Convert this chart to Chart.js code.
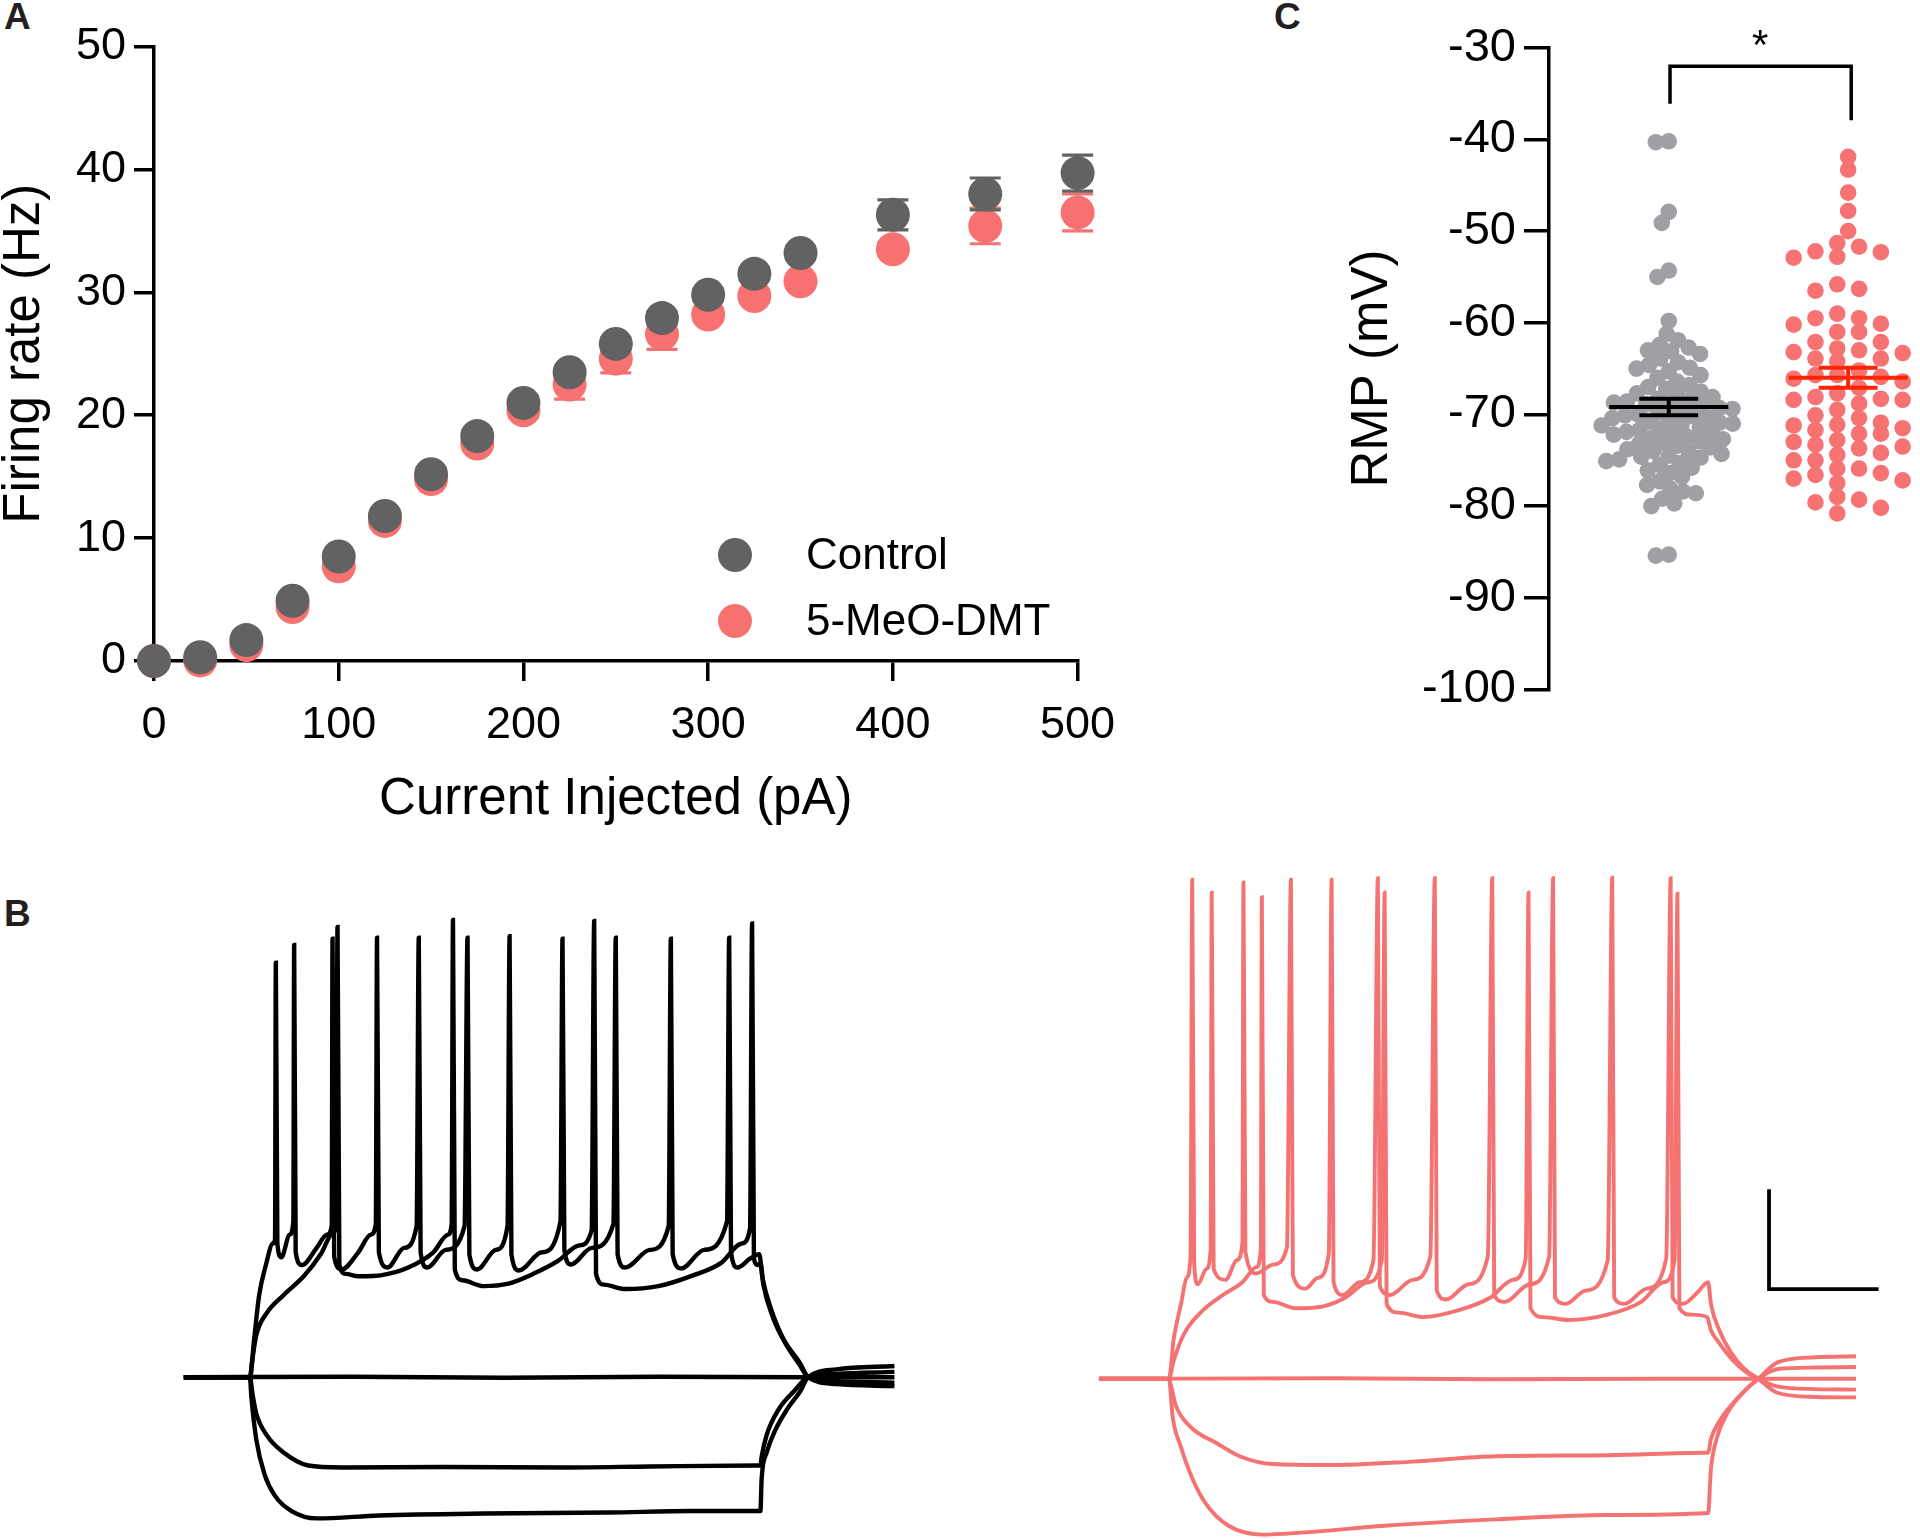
<!DOCTYPE html>
<html><head><meta charset="utf-8">
<script src="https://cdn.jsdelivr.net/npm/chart.js@4.4.1/dist/chart.umd.min.js"></script>
<style>
html,body{margin:0;padding:0;background:#fff;}
body{width:1920px;height:1539px;position:relative;overflow:hidden;font-family:'Liberation Sans',Arial,sans-serif;}
canvas{position:absolute;}
.lbl{position:absolute;font-weight:bold;font-size:37px;line-height:1;color:#231F20;}
</style></head><body>
<div class="lbl" style="left:4px;top:-2px">A</div>
<div class="lbl" style="left:4px;top:895px">B</div>
<div class="lbl" style="left:1274px;top:-2px">C</div>
<canvas id="cA" width="1150" height="830" style="left:0;top:0"></canvas>
<canvas id="cC" width="630" height="720" style="left:1290px;top:0"></canvas>
<canvas id="cB1" width="800" height="679" style="left:150px;top:860px"></canvas>
<canvas id="cB2" width="870" height="679" style="left:1050px;top:860px"></canvas>
<script>
// ---------------- DATA ----------------
// Panel A: firing rate vs injected current
const currents    = [0,25,50,75,100,125,150,175,200,225,250,275,300,325,350,400,450,500];
const controlRate = [0,0.3,1.7,4.9,8.5,11.8,15.2,18.3,21.0,23.5,25.8,27.9,29.8,31.5,33.2,36.3,38.0,39.7];
const controlSEM  = [0,0.1,0.2,0.3,0.4,0.4,0.5,0.5,0.5,0.5,0.5,0.5,0.5,0.5,0.5,1.22,1.3,1.46];
const dmtRate     = [0,0.05,1.3,4.4,7.7,11.4,14.8,17.7,20.4,22.5,24.6,26.6,28.2,29.7,30.9,33.5,35.4,36.5];
const dmtSEM      = [0,0.1,0.2,0.3,0.4,0.5,0.5,0.5,0.6,1.2,1.15,1.25,0.5,0.5,0.5,0.5,1.45,1.5];
const xTicksA = [0,100,200,300,400,500];
const yTicksA = [0,10,20,30,40,50];
const legendA = ['Control','5-MeO-DMT'];

// Panel C: resting membrane potential (mV)
const controlRMP = [-40.2,-40.3,-47.9,-49.1,-54.3,-55.0,-59.8,-85.3,-85.4,
 -61.2,-61.9,-62.4,-62.7,-63.0,-63.1,-63.4,-63.9,-64.3,-64.6,-65.0,-65.3,-65.7,-66.0,-66.4,-66.8,
 -67.0,-67.2,-67.5,-67.7,-67.9,-68.1,-68.3,-68.5,-68.7,-68.9,-69.1,-69.3,-69.4,-69.6,-69.8,-70.0,-70.1,-70.3,-70.4,-70.6,-70.8,-70.9,-71.1,-71.2,-71.4,-71.6,-71.7,-71.9,-72.1,-72.2,-72.4,-72.6,-72.7,-72.9,
 -73.1,-73.2,-73.4,-73.6,-73.8,-74.0,-74.1,-74.3,-74.5,-74.7,-74.9,-75.1,-75.3,-75.5,-75.8,-76.1,-76.4,-76.8,
 -77.3,-77.7,-78.1,-78.4,-78.6,-79.2,-79.7,-80.0,
 -69.0,-70.2,-71.0,-68.6,-72.0,-64.9,-74.6];
const dmtRMP = [-41.9,-43.3,-45.8,-47.8,-50.0,
 -51.3,-52.8,-56.3,-59.5,-61.0,-63.3,-66.1,-68.4,-70.1,-71.7,-73.3,-75.0,-76.6,-80.2,
 -51.7,-63.2,-65.2,-68.1,-70.4,-72.1,-73.5,-76.4,
 -52.2,-55.8,-59.0,-61.0,-62.8,-64.2,-65.9,-67.7,-69.5,-71.1,-72.8,-74.4,-75.9,-77.5,-79.3,-80.8,
 -52.3,-56.5,-60.2,-62.1,-63.9,-65.7,-68.3,-71.5,-73.7,-77.0,-79.0,
 -60.1,-62.1,-63.9,-66.4,-68.4,-70.9,-72.1,-75.0,-77.2,-79.6,
 -52.9,-59.5,-63.0,-65.7,-67.1,-68.8,-71.2,-73.0,-74.2,-75.9];
const controlMean = -69.2, controlRMPsem = 0.9;
const dmtMean = -66.0, dmtRMPsem = 1.1;
const yTicksC = [-30,-40,-50,-60,-70,-80,-90,-100];
const bracketTop = -32.0, bracketLeftEnd = -36.1, bracketRightEnd = -37.9, starLevel = -29.0;

// Panel B: example voltage traces [time ms, membrane potential mV]
const ctrlHigh = [[-66,-70.6],[-1,-70.6],[3.1,-62.8],[8.0,-53.9],[14.6,-47.7],[21.5,-43.3],[23.6,-42.4],[24.4,14.0],[25.9,-43.3],[29.8,-46.1],[38.0,-41.5],[41.6,-38.8],[42.4,17.6],[43.9,-45.1],[50.1,-47.7],[64.5,-44.2],[74.7,-41.5],[79.3,-39.7],[80.1,18.9],[81.7,-46.0],[89.1,-48.6],[105.4,-45.1],[117.7,-41.5],[122.6,-39.3],[123.8,19.1],[125.6,-45.1],[134.1,-48.2],[150.4,-44.2],[162.7,-39.7],[164.8,19.1],[166.6,-45.1],[173.0,-48.2],[191.4,-44.6],[209.8,-39.7],[212.7,19.1],[214.5,-45.5],[222.1,-48.6],[240.5,-44.6],[252.0,-39.7],[254.0,19.4],[255.8,-45.5],[263.1,-48.8],[285.6,-45.1],[304.0,-38.8],[306.0,18.9],[307.8,-44.6],[314.2,-47.6],[334.7,-44.2],[356.0,-39.3],[358.3,19.1],[360.1,-45.5],[367.4,-48.2],[391.9,-44.6],[410.3,-39.7],[412.4,18.9],[414.2,-45.5],[422.6,-48.4],[445.1,-44.6],[467.6,-38.8],[469.7,19.1],[471.5,-45.1],[477.9,-48.2],[490.2,-46.4],[499.2,-45.5],[502.5,-50.4],[510.7,-56.6],[523.0,-62.8],[539.3,-67.7],[547.2,-70.6],[575,-72.0],[632,-72.4]];
const ctrlLow = [[-66,-70.6],[-1,-70.6],[1.1,-67.3],[5.2,-62.0],[15.4,-57.5],[31.7,-53.9],[52.2,-49.9],[68.5,-45.5],[80.8,-41.1],[83.7,-39.3],[85.0,21.3],[86.8,-47.7],[93.2,-49.5],[105.4,-50.0],[130.0,-49.7],[154.5,-48.2],[179.1,-45.1],[193.4,-41.5],[197.1,-39.3],[198.4,22.7],[200.2,-48.6],[207.8,-50.8],[228.2,-52.0],[252.8,-51.5],[277.3,-49.5],[301.9,-46.8],[322.3,-43.7],[334.6,-40.6],[337.1,22.5],[338.9,-49.5],[346.9,-51.7],[367.4,-52.6],[400.1,-52.0],[432.9,-49.9],[461.5,-47.3],[482.0,-43.3],[490.2,-40.2],[492.2,22.0],[494.0,-46.4],[497.5,-47.7],[500.4,-47.3],[503.3,-51.7],[512.7,-58.4],[525.0,-63.7],[539.3,-68.2],[547.2,-70.6],[575,-71.4],[632,-71.7]];
const ctrlZero = [[-66,-70.6],[100,-70.5],[250,-70.7],[400,-70.5],[547.2,-70.6],[632,-70.6]];
const ctrlHyp1 = [[-66,-70.6],[-1,-70.6],[1.5,-74.0],[5.2,-78.0],[15.4,-82.4],[31.7,-85.9],[56.2,-88.6],[89.1,-89.0],[187.3,-88.9],[310.1,-89.0],[392.0,-88.8],[498.4,-88.6],[500.4,-88.6],[501.6,-86.8],[506.5,-82.4],[518.8,-77.0],[533.1,-73.5],[547.2,-70.6],[575,-69.9],[632,-69.5]];
const ctrlHyp2 = [[-66,-70.6],[-1,-70.6],[0.3,-74.4],[5.2,-83.3],[13.3,-90.4],[23.6,-94.8],[39.9,-97.9],[64.5,-99.4],[125.9,-98.8],[228.2,-98.4],[350.9,-98.2],[432.9,-97.9],[500.4,-97.9],[501.6,-91.3],[506.5,-86.0],[514.7,-81.5],[527.0,-77.0],[539.3,-73.5],[547.2,-70.6],[575,-69.0],[632,-68.3]];

const dmtHigh = [[-66,-70.6],[-1,-70.6],[3.5,-62.4],[10.3,-55.3],[15.5,-50.0],[19.1,-45.6],[20.7,31.3],[22.5,-47.3],[25.9,-51.3],[33.7,-48.2],[37.8,-44.2],[38.8,28.6],[40.6,-48.2],[51.7,-50.4],[62.1,-46.4],[67.3,-42.9],[68.3,30.7],[70.1,-44.7],[80.3,-49.1],[95.8,-47.3],[108.7,-43.8],[112.4,31.3],[114.2,-49.5],[125.9,-52.2],[137.3,-50.0],[147.6,-45.1],[150.2,31.3],[152.0,-50.9],[160.6,-53.5],[176.2,-50.9],[189.1,-46.4],[193.2,31.6],[195.0,-51.7],[204.6,-53.5],[225.4,-50.4],[242.0,-45.6],[246.1,31.6],[247.9,-52.6],[256.6,-54.4],[277.3,-51.3],[295.4,-45.6],[299.5,31.6],[301.3,-53.5],[310.9,-54.9],[334.2,-51.3],[352.4,-45.6],[356.0,31.6],[357.8,-54.0],[367.9,-55.3],[386.1,-52.6],[406.8,-46.4],[411.0,31.7],[412.8,-54.0],[422.4,-55.3],[443.1,-52.2],[461.2,-46.0],[465.3,31.6],[467.1,-54.0],[476.8,-55.3],[489.7,-53.1],[500.1,-50.9],[502.7,-55.3],[510.5,-60.7],[520.9,-65.1],[533.9,-68.6],[546.7,-70.6],[565,-73.5],[600,-74.3],[637.5,-74.4]];
const dmtLow = [[-66,-70.6],[-1,-70.6],[3.5,-66.9],[12.9,-61.5],[28.4,-57.1],[49.1,-53.5],[67.3,-50.9],[80.3,-47.8],[84.4,-44.2],[85.4,27.7],[87.2,-53.5],[95.8,-54.9],[116.5,-56.2],[142.4,-55.8],[163.2,-54.0],[183.9,-50.9],[196.9,-46.4],[199.5,28.6],[201.3,-55.3],[212.4,-57.1],[235.8,-58.0],[266.8,-56.7],[297.9,-54.0],[318.6,-50.4],[330.6,-46.0],[333.2,28.6],[335.0,-56.2],[347.2,-58.0],[370.5,-58.6],[406.8,-57.5],[437.9,-54.9],[458.6,-50.9],[469.0,-46.4],[471.6,28.4],[473.4,-56.2],[484.6,-57.5],[499.1,-58.0],[502.7,-60.7],[510.5,-63.3],[523.4,-66.9],[536.4,-69.4],[546.7,-70.6],[565,-72.2],[600,-72.7],[637.5,-72.8]];
const dmtZero = [[-66,-70.6],[150,-70.5],[300,-70.7],[450,-70.6],[546.7,-70.6],[637.5,-70.6]];
const dmtHyp1 = [[-66,-70.6],[-1,-70.6],[1.5,-72.5],[5.1,-75.8],[18.1,-80.2],[43.9,-83.8],[64.7,-86.4],[95.8,-88.0],[147.6,-88.2],[225.4,-87.5],[303.1,-86.4],[406.8,-86.2],[497.5,-85.7],[500.1,-85.7],[502.7,-82.9],[510.5,-79.3],[526.0,-74.9],[546.7,-70.6],[565,-68.6],[600,-68.3],[637.5,-68.2]];
const dmtHyp2 = [[-66,-70.6],[-1,-70.6],[2.5,-78.4],[10.3,-84.6],[20.7,-90.9],[33.6,-96.2],[54.4,-100.6],[85.4,-102.4],[121.7,-102.0],[199.5,-100.6],[303.1,-99.3],[406.8,-98.4],[500.1,-98.0],[502.7,-89.1],[507.9,-82.9],[518.2,-77.5],[533.9,-73.1],[546.7,-70.6],[565,-67.2],[600,-66.2],[637.5,-66.0]];
const scaleBarOrigin = [556.7, -52.3]; // ms, mV
const scaleBarMs = 100, scaleBarMv = 20;

// ---------------- STYLE ----------------
const FONT = "'Liberation Sans', Arial, Helvetica, sans-serif";
Chart.defaults.font.family = FONT;
Chart.defaults.color = '#000';
Chart.defaults.animation = false;
Chart.defaults.events = [];
Chart.defaults.plugins.legend.display = false;
Chart.defaults.plugins.tooltip.enabled = false;

const GRAY_A = '#626262', RED_A = '#F77171';
const GRAY_C = '#9F9FA4', RED_C = '#F77272', RED_MEAN = '#FF2400';
const TRACE_RED = '#F47372';

function axisStyle(size, tickLen) {
  return {
    ticks: { font: { size }, color: '#000' },
    grid: { drawOnChartArea: false, drawTicks: true, tickLength: tickLen, color: '#000', lineWidth: 3.5 },
    border: { display: true, color: '#000', width: 3.5 }
  };
}

// ---------------- PANEL A ----------------
const errorBars = {
  id: 'errorBars',
  beforeDatasetDraw(chart, args) {
    const ds = chart.data.datasets[args.index];
    if (!ds.errors) return;
    const { ctx, scales: { x, y } } = chart;
    ctx.save();
    ctx.strokeStyle = ds.pointBackgroundColor;
    ctx.lineWidth = 3.2;
    ds.data.forEach((p, i) => {
      const e = ds.errors[i];
      if (!e) return;
      const px = x.getPixelForValue(p.x);
      const t = y.getPixelForValue(p.y + e), b = y.getPixelForValue(p.y - e);
      ctx.beginPath();
      ctx.moveTo(px, t); ctx.lineTo(px, b);
      ctx.moveTo(px - 15.5, t); ctx.lineTo(px + 15.5, t);
      ctx.moveTo(px - 15.5, b); ctx.lineTo(px + 15.5, b);
      ctx.stroke();
    });
    ctx.restore();
  }
};
const legendPluginA = {
  id: 'legendA',
  afterDraw(chart) {
    const ctx = chart.ctx;
    const items = [[GRAY_A, 555], [RED_A, 621]];
    ctx.save();
    items.forEach(([c, yy], i) => {
      ctx.fillStyle = c;
      ctx.beginPath(); ctx.arc(735, yy, 17, 0, Math.PI * 2); ctx.fill();
      ctx.fillStyle = '#000';
      ctx.font = `44px ${FONT}`;
      ctx.textBaseline = 'middle';
      ctx.textAlign = 'left';
      ctx.fillText(legendA[i], 806, yy + 2);
    });
    ctx.restore();
  }
};
const axA = axisStyle(45, 20);
new Chart(document.getElementById('cA'), {
  type: 'scatter',
  data: {
    datasets: [
      { label: legendA[0], data: currents.map((c, i) => ({ x: c, y: controlRate[i] })), errors: controlSEM,
        pointRadius: 17, pointBackgroundColor: GRAY_A, pointBorderWidth: 0, clip: false },
      { label: legendA[1], data: currents.map((c, i) => ({ x: c, y: dmtRate[i] })), errors: dmtSEM,
        pointRadius: 17, pointBackgroundColor: RED_A, pointBorderWidth: 0, clip: false }
    ]
  },
  options: {
    responsive: false, devicePixelRatio: 1,
    layout: { padding: { left: 0, top: 46.5, right: 72.4, bottom: 0 } },
    scales: {
      x: { type: 'linear', min: 0, max: 500,
        afterBuildTicks: s => { s.ticks = xTicksA.map(v => ({ value: v })); },
        ticks: { ...axA.ticks, padding: 18 }, grid: axA.grid, border: axA.border,
        title: { display: true, text: 'Current Injected (pA)', font: { size: 51, lineHeight: 1 }, padding: { top: 0, bottom: 4.5 }, color: '#000' },
        afterFit: s => { s.height = 169; s.paddingLeft = 0; s.paddingRight = 0; } },
      y: { type: 'linear', min: 0, max: 50,
        afterBuildTicks: s => { s.ticks = yTicksA.map(v => ({ value: v })); },
        ticks: { ...axA.ticks, padding: 8 }, grid: axA.grid, border: axA.border,
        title: { display: true, text: 'Firing rate (Hz)', font: { size: 51, lineHeight: 0.94 }, padding: { top: 1, bottom: 0 }, color: '#000' },
        afterFit: s => { s.width = 154; s.paddingTop = 0; s.paddingBottom = 0; } }
    }
  },
  plugins: [errorBars, legendPluginA]
});

// ---------------- PANEL C ----------------
const MEAN_HALF = 0.332, CAP_HALF = 0.164;
const overlayC = {
  id: 'overlayC',
  afterDatasetsDraw(chart) {
    const { ctx, scales: { x, y } } = chart;
    ctx.save();
    ctx.lineWidth = 4;
    [[1, controlMean, controlRMPsem, '#000'], [2, dmtMean, dmtRMPsem, RED_MEAN]].forEach(([g, m, s, col]) => {
      ctx.strokeStyle = col;
      const yM = y.getPixelForValue(m), yT = y.getPixelForValue(m + s), yB = y.getPixelForValue(m - s);
      ctx.beginPath();
      ctx.moveTo(x.getPixelForValue(g - MEAN_HALF), yM); ctx.lineTo(x.getPixelForValue(g + MEAN_HALF), yM);
      ctx.moveTo(x.getPixelForValue(g - CAP_HALF), yT); ctx.lineTo(x.getPixelForValue(g + CAP_HALF), yT);
      ctx.moveTo(x.getPixelForValue(g - CAP_HALF), yB); ctx.lineTo(x.getPixelForValue(g + CAP_HALF), yB);
      ctx.moveTo(x.getPixelForValue(g), yT); ctx.lineTo(x.getPixelForValue(g), yB);
      ctx.stroke();
    });
    // significance bracket
    ctx.strokeStyle = '#000'; ctx.lineWidth = 3.5; ctx.lineJoin = 'miter';
    ctx.beginPath();
    ctx.moveTo(x.getPixelForValue(1.007), y.getPixelForValue(bracketLeftEnd));
    ctx.lineTo(x.getPixelForValue(1.007), y.getPixelForValue(bracketTop));
    ctx.lineTo(x.getPixelForValue(2.017), y.getPixelForValue(bracketTop));
    ctx.lineTo(x.getPixelForValue(2.017), y.getPixelForValue(bracketRightEnd));
    ctx.stroke();
    ctx.fillStyle = '#000';
    ctx.font = `42px ${FONT}`;
    ctx.textAlign = 'center'; ctx.textBaseline = 'middle';
    ctx.fillText('*', x.getPixelForValue(1.51), y.getPixelForValue(starLevel) + 8.4);
    ctx.restore();
  }
};
const axC = axisStyle(47, 25);
const chC = new Chart(document.getElementById('cC'), {
  type: 'scatter',
  data: {
    datasets: [
      { data: controlRMP.map(v => ({ x: 1, y: v })), pointRadius: 8.3, pointBackgroundColor: GRAY_C, pointBorderWidth: 0, clip: false },
      { data: dmtRMP.map(v => ({ x: 2, y: v })), pointRadius: 8.3, pointBackgroundColor: RED_C, pointBorderWidth: 0, clip: false }
    ]
  },
  options: {
    responsive: false, devicePixelRatio: 1,
    layout: { padding: { left: 0, top: 47.8, right: 0, bottom: 30.6 } },
    scales: {
      x: { type: 'linear', display: false, min: 0.3324, max: 2.3542 },
      y: { type: 'linear', min: -100, max: -30,
        afterBuildTicks: s => { s.ticks = yTicksC.map(v => ({ value: v })); },
        ticks: { ...axC.ticks, padding: 8 }, grid: axC.grid, border: axC.border,
        title: { display: true, text: 'RMP (mV)', font: { size: 51, lineHeight: 1.2 }, padding: { top: 52.4, bottom: 0 }, color: '#000' },
        afterFit: s => { s.width = 259; s.paddingTop = 0; s.paddingBottom = 0; } }
    }
  },
  plugins: [overlayC]
});

// beeswarm layout (pixel space, from the chart's own scales)
function swarmOffsets(values, ys, minDist) {
  const order = values.map((v, i) => i).sort((a, b) => values[b] - values[a]);
  const placed = [], off = new Array(values.length);
  for (const i of order) {
    const py = ys.getPixelForValue(values[i]);
    const iv = [];
    for (const p of placed) {
      const dy = Math.abs(p.y - py);
      if (dy < minDist) { const w = Math.sqrt(minDist * minDist - dy * dy); iv.push([p.x - w, p.x + w]); }
    }
    const cands = [0];
    iv.forEach(([a, b]) => cands.push(a, b));
    cands.sort((a, b) => Math.abs(a) - Math.abs(b));
    let xx = 0;
    for (const c of cands) {
      if (iv.every(([a, b]) => c <= a + 1e-6 || c >= b - 1e-6)) { xx = c; break; }
    }
    off[i] = xx; placed.push({ x: xx, y: py });
  }
  return off;
}
function columnOffsets(values, ys, step, sameCol, centerBlock, nHalf) {
  const order = values.map((v, i) => i).sort((a, b) => values[b] - values[a]);
  const cols = [0];
  for (let k = 0; k < nHalf; k++) cols.push(-(k + 0.5) * step, (k + 0.5) * step);
  const placed = [], off = new Array(values.length);
  for (const i of order) {
    const py = ys.getPixelForValue(values[i]);
    let chosen = null, bestC = null, bestGap = -1;
    for (const c of cols) {
      let ok = true, gap = Infinity;
      for (const p of placed) {
        const dy = Math.abs(p.y - py);
        if (c === 0) {
          if (p.x !== 0 && dy < 2 * sameCol) { ok = false; }
          if (p.x === 0 && dy < 12) { ok = false; gap = Math.min(gap, dy); }
        } else {
          if (p.x === 0 && dy < centerBlock) { ok = false; gap = Math.min(gap, dy); }
          if (Math.abs(p.x - c) < 1) { gap = Math.min(gap, dy); if (dy < sameCol) ok = false; }
        }
      }
      if (ok) { chosen = c; break; }
      if (c !== 0 && gap > bestGap) { bestGap = gap; bestC = c; }
    }
    if (chosen === null) chosen = bestC;
    off[i] = chosen; placed.push({ x: chosen, y: py });
  }
  return off;
}
(function layoutC() {
  const xs = chC.scales.x, ys = chC.scales.y;
  const gOff = swarmOffsets(controlRMP, ys, 13);
  const rOff = columnOffsets(dmtRMP, ys, 21.8, 13.5, 10, 3);
  const c1 = xs.getPixelForValue(1), c2 = xs.getPixelForValue(2);
  chC.data.datasets[0].data = controlRMP.map((v, i) => ({ x: xs.getValueForPixel(c1 + gOff[i]), y: v }));
  chC.data.datasets[1].data = dmtRMP.map((v, i) => ({ x: xs.getValueForPixel(c2 + rOff[i]), y: v }));
  chC.update('none');
})();

// ---------------- PANEL B ----------------
function traceSet(sweeps, color, width) {
  return sweeps.map(s => ({
    data: s.map(([t, v]) => ({ x: t, y: v })),
    borderColor: color, borderWidth: width, pointRadius: 0, fill: false,
    cubicInterpolationMode: 'monotone', clip: false
  }));
}
function traceOptions(xmin, xmax, ymin, ymax) {
  return {
    responsive: false, devicePixelRatio: 1,
    layout: { padding: 0 },
    scales: {
      x: { type: 'linear', display: false, min: xmin, max: xmax },
      y: { type: 'linear', display: false, min: ymin, max: ymax }
    }
  };
}
new Chart(document.getElementById('cB1'), {
  type: 'line',
  data: { datasets: traceSet([ctrlHyp2, ctrlHyp1, ctrlZero, ctrlLow, ctrlHigh], '#000', 4.4) },
  options: traceOptions(-99.2, 686.6, -103.6, 34.95)
});
const bar = [
  { x: scaleBarOrigin[0], y: scaleBarOrigin[1] + scaleBarMv },
  { x: scaleBarOrigin[0], y: scaleBarOrigin[1] },
  { x: scaleBarOrigin[0] + scaleBarMs, y: scaleBarOrigin[1] }
];
new Chart(document.getElementById('cB2'), {
  type: 'line',
  data: { datasets: [
    ...traceSet([dmtHyp2, dmtHyp1, dmtZero, dmtLow, dmtHigh], TRACE_RED, 3.9),
    { data: bar, borderColor: '#000', borderWidth: 3.8, pointRadius: 0, tension: 0, borderJoinStyle: 'miter', borderCapStyle: 'square' }
  ] },
  options: traceOptions(-111.5, 697.0, -103.3, 35.3)
});
</script>
</body></html>
